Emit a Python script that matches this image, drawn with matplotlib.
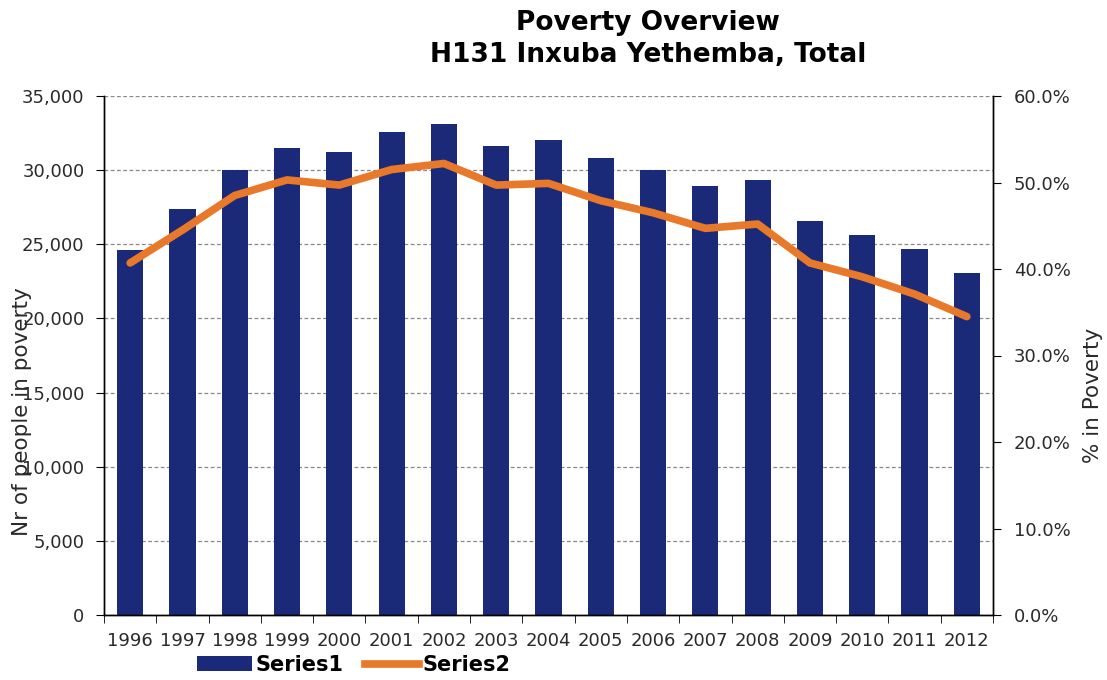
import matplotlib
import numpy as np

matplotlib.use("Agg")
import matplotlib.pyplot as plt
from matplotlib.lines import Line2D
from matplotlib.patches import Patch
from matplotlib.ticker import FuncFormatter, MultipleLocator

years = [str(y) for y in range(1996, 2013)]
people = [24600, 27400, 30000, 31500, 31250, 32600, 33100, 31600, 32000,
          30800, 30000, 28900, 29350, 26600, 25650, 24700, 23050]
pct = [40.7, 44.5, 48.5, 50.3, 49.7, 51.5, 52.2, 49.7, 49.9,
       47.9, 46.5, 44.7, 45.2, 40.7, 39.1, 37.1, 34.5]

NAVY = "#1b2a78"
ORANGE = "#e8782a"
TXT = "#2a2a2a"

plt.rcParams["font.family"] = ["DejaVu Sans"]

fig = plt.figure(figsize=(11.07, 6.8), dpi=100)
ax = fig.add_axes([104 / 1107, 65 / 680, 889 / 1107, 519 / 680])
x = np.arange(len(years))

ax.bar(x, people, width=0.5, color=NAVY, zorder=2)
ax.set_xlim(-0.5, len(years) - 0.5)
ax.set_ylim(0, 35000)
ax.yaxis.set_major_locator(MultipleLocator(5000))
ax.yaxis.set_major_formatter(FuncFormatter(lambda v, _: f"{v:,.0f}"))
ax.grid(axis="y", linestyle=(0, (3, 2)), color="#888888", linewidth=0.9)
ax.set_axisbelow(True)

# category labels at centres, tick marks on the boundaries
ax.set_xticks(x)
ax.set_xticklabels(years)
ax.tick_params(axis="x", which="major", length=0, pad=12, labelsize=13, labelcolor=TXT)
ax.set_xticks(np.arange(-0.5, len(years)), minor=True)
ax.tick_params(axis="x", which="minor", length=6, direction="out")
ax.tick_params(axis="y", length=6, direction="out", labelsize=13, labelcolor=TXT, pad=8)

ax2 = ax.twinx()
ax2.plot(x, pct, color=ORANGE, linewidth=5.5, solid_capstyle="round",
         solid_joinstyle="round", zorder=3)
ax2.set_ylim(0, 60)
ax2.yaxis.set_major_locator(MultipleLocator(10))
ax2.yaxis.set_major_formatter(FuncFormatter(lambda v, _: f"{v:.1f}%"))
ax2.tick_params(axis="y", length=6, direction="out", labelsize=13, labelcolor=TXT, pad=9)

for a in (ax, ax2):
    a.spines["top"].set_visible(False)
    for s in ("left", "right", "bottom"):
        a.spines[s].set_color("black")
        a.spines[s].set_linewidth(1.0)

# the left axis title sits over its tick labels, as in the Excel layout
fig.text(22 / 1107, 1 - 412 / 680, "Nr of people in poverty", rotation=90,
         ha="center", va="center", fontsize=15.5, color=TXT)
fig.text(1093 / 1107, 1 - 395 / 680, "% in Poverty", rotation=90,
         ha="center", va="center", fontsize=15.5, color=TXT)

fig.text(648 / 1107, 1 - 39 / 680, "Poverty Overview\nH131 Inxuba Yethemba, Total",
         ha="center", va="center", fontsize=19, fontweight="bold",
         linespacing=1.25, color="black")

handles = [Patch(facecolor=NAVY, edgecolor="none"),
           Line2D([], [], color=ORANGE, linewidth=5.5)]
fig.legend(handles, ["Series1", "Series2"], loc="center left",
           bbox_to_anchor=(189 / 1107, 1 - 665 / 680), ncol=2, frameon=False,
           prop={"weight": "bold", "size": 15}, handlelength=2.6,
           handletextpad=0.2, columnspacing=1.0, borderaxespad=0)

fig.savefig("out.png", dpi=100, facecolor="white")
